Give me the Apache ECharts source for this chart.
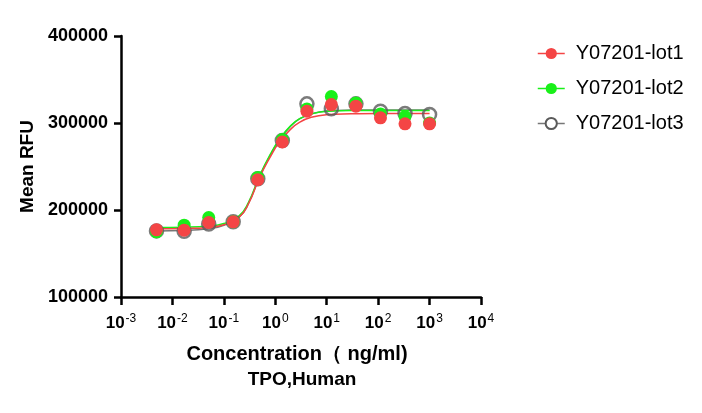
<!DOCTYPE html>
<html>
<head>
<meta charset="utf-8">
<script src="https://cdn.jsdelivr.net/npm/echarts@6/dist/echarts.min.js"></script>
<style>
html, body { margin: 0; padding: 0; background: #fff; }
#main { width: 702px; height: 413px; }
</style>
</head>
<body>
<div id="main"></div>
<script>
// 浓度 (ng/ml)，3倍稀释
var conc = [0.0049, 0.0169, 0.0508, 0.152, 0.457, 1.37, 4.12, 12.3, 37, 111, 333, 1000];
var lot1 = [177200, 176800, 185600, 186400, 234800, 278200, 313500, 321200, 319300, 305900, 299000, 299000];
var lot2 = [174900, 182600, 191400, 186400, 237400, 280900, 316200, 330400, 323100, 310400, 307400, 300000];
var lot3 = [176000, 175600, 183800, 186400, 236000, 279800, 322000, 316500, 322000, 313500, 311000, 309700];

// 拟合曲线
var fitX = [0.0049, 0.0169, 0.05, 0.1, 0.2, 0.3, 0.5, 0.8, 1.2, 2, 3, 5, 10, 30, 100, 1000];
var fit1 = [178500, 178800, 180000, 183000, 192000, 207000, 238000, 261000, 278000, 293000, 301000, 306500, 309500, 310500, 311000, 311000];
var fit2 = [180000, 180300, 181500, 184500, 193500, 208500, 240000, 264000, 281000, 297000, 305000, 310500, 313500, 314500, 314500, 314500];
var fit3 = [176000, 176500, 178500, 182500, 192000, 207500, 239000, 263000, 280500, 296500, 305000, 310500, 313800, 314800, 315000, 315000];

var names = ['Y07201-lot1', 'Y07201-lot2', 'Y07201-lot3'];
var colors = ['#f44545', '#19f019', '#5a5a5a'];
var font = 'Arial, "Liberation Sans", sans-serif';

function pairs(xs, ys) {
    return xs.map(function (x, i) { return [x, ys[i]]; });
}

var pts = [lot1, lot2, lot3];
var fits = [fit1, fit2, fit3];

var series = [];
// 先画曲线（图例取第一个同名系列）
for (var i = 2; i >= 0; i--) {
    series.push({
        name: names[i],
        type: 'line',
        data: pairs(fitX, fits[i]),
        smooth: 0.5,
        symbol: 'circle',
        symbolSize: 12,
        showSymbol: false,
        silent: true,
        z: 2,
        lineStyle: { color: i === 2 ? '#777' : colors[i], width: 1.5 },
        itemStyle: i === 2
            ? { color: '#fff', borderColor: colors[i], borderWidth: 2 }
            : { color: colors[i] }
    });
}
for (var j = 2; j >= 0; j--) {
    series.push({
        name: names[j],
        type: 'scatter',
        data: pairs(conc, pts[j]),
        symbol: 'circle',
        symbolSize: 13,
        z: 3,
        itemStyle: j === 2
            ? { color: 'rgba(255,255,255,0)', borderColor: colors[j], borderWidth: 2.5 }
            : { color: colors[j], opacity: 1 }
    });
}

var myChart = echarts.init(document.getElementById('main'));
option = {
    animation: false,
    backgroundColor: '#fff',
    grid: { left: 121, right: 221, top: 36, bottom: 116 },
    legend: {
        orient: 'vertical',
        left: 532,
        top: 38,
        itemWidth: 27,
        itemHeight: 14,
        itemGap: 14,
        data: names,
        textStyle: { fontFamily: font, fontSize: 20, lineHeight: 21, color: '#000', padding: [0, 0, 0, 6] },
        lineStyle: { width: 1.5 }
    },
    xAxis: {
        type: 'log',
        logBase: 10,
        min: 0.001,
        max: 10000,
        splitLine: { show: false },
        axisLine: { onZero: false, lineStyle: { color: '#000', width: 2.5 } },
        axisTick: { length: 8, lineStyle: { color: '#000', width: 2.5 } },
        axisLabel: {
            margin: 16,
            formatter: function (v) {
                var e = Math.round(Math.log(v) / Math.LN10);
                return '{b|10}{s|' + e + '}';
            },
            rich: {
                b: { fontFamily: font, fontSize: 17, fontWeight: 'bold', color: '#000' },
                s: { fontFamily: font, fontSize: 12, color: '#000', padding: [0, 0, 9, 1] }
            }
        }
    },
    yAxis: {
        type: 'value',
        min: 100000,
        max: 400000,
        interval: 100000,
        splitLine: { show: false },
        axisLine: { lineStyle: { color: '#000', width: 2.5 } },
        axisTick: { length: 7, lineStyle: { color: '#000', width: 2.5 } },
        axisLabel: {
            margin: 13,
            fontFamily: font,
            fontSize: 18,
            fontWeight: 'bold',
            color: '#000',
            formatter: function (v) { return String(v); }
        },
        name: 'Mean RFU',
        nameLocation: 'middle',
        nameGap: 84,
        nameTextStyle: { fontFamily: font, fontSize: 19, fontWeight: 'bold', color: '#000' }
    },
    graphic: [
        {
            type: 'text',
            x: 297,
            y: 354,
            style: { text: 'Concentration（ ng/ml)', fontFamily: font, fontSize: 20, fontWeight: 'bold', fill: '#000', align: 'center', verticalAlign: 'middle' }
        },
        {
            type: 'text',
            x: 302,
            y: 380,
            style: { text: 'TPO,Human', fontFamily: font, fontSize: 19, fontWeight: 'bold', fill: '#000', align: 'center', verticalAlign: 'middle' }
        }
    ],
    series: series
};
myChart.setOption(option);
</script>
</body>
</html>
